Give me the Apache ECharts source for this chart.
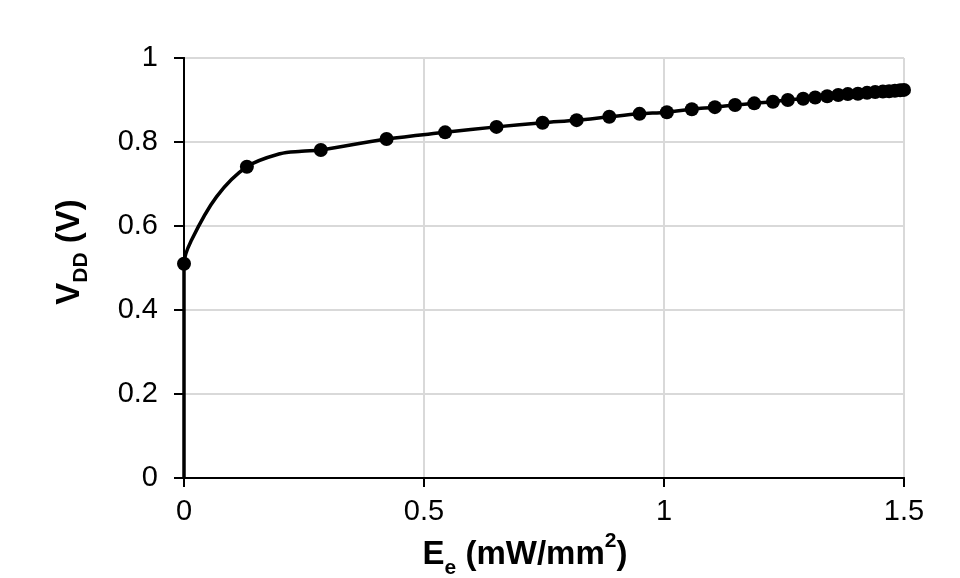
<!DOCTYPE html>
<html>
<head>
<meta charset="utf-8">
<script src="https://cdn.jsdelivr.net/npm/echarts@6/dist/echarts.min.js"></script>
<style>
  html, body { margin: 0; padding: 0; background: #fff; }
  #chart { width: 960px; height: 578px; }
</style>
</head>
<body>
<div id="chart"></div>
<script>
// measured points (markers)
const markX = [0, 0.131, 0.285, 0.422, 0.544, 0.651, 0.747, 0.818, 0.886, 0.949,
  1.006, 1.058, 1.106, 1.148, 1.188, 1.227, 1.258, 1.290, 1.315, 1.340,
  1.363, 1.383, 1.404, 1.423, 1.440, 1.456, 1.469, 1.481, 1.492, 1.500];
const markY = [0.510, 0.741, 0.781, 0.807, 0.823, 0.836, 0.846, 0.852, 0.860, 0.867,
  0.871, 0.878, 0.883, 0.888, 0.892, 0.896, 0.900, 0.903, 0.906, 0.909,
  0.912, 0.914, 0.915, 0.917, 0.919, 0.920, 0.921, 0.922, 0.923, 0.924];

// fitted curve at the start, then through the markers
const curveX = [0, 0, 0.016, 0.068, 0.131, 0.200, 0.245].concat(markX.slice(2));
const curveY = [0, 0.510, 0.567, 0.670, 0.741, 0.772, 0.778].concat(markY.slice(2));

const xTicks = [0, 0.5, 1, 1.5];
const yTicks = [0, 0.2, 0.4, 0.6, 0.8, 1];

const font = '"Liberation Sans", Arial, sans-serif';
const gridColor = '#d9d9d9';

let chart = echarts.init(document.getElementById('chart'));

let option = {
  backgroundColor: '#fff',
  animation: false,
  grid: { left: 184, right: 56, top: 58, bottom: 100, containLabel: false, outerBoundsMode: 'none' },
  xAxis: [
    {
      type: 'value',
      min: 0,
      max: 1.5,
      interval: 0.5,
      name: '{b|E}{s|e}{b| (mW/mm}{p|2}{b|)}',
      nameLocation: 'middle',
      nameGap: 50,
      nameTextStyle: {
        padding: [0, 38, 0, 0],
        rich: {
          b: { fontFamily: font, fontWeight: 'bold', fontSize: 33, color: '#000', lineHeight: 48 },
          s: { fontFamily: font, fontWeight: 'bold', fontSize: 21, color: '#000', lineHeight: 48, verticalAlign: 'bottom' },
          p: { fontFamily: font, fontWeight: 'bold', fontSize: 21, color: '#000', lineHeight: 48, verticalAlign: 'top' }
        }
      },
      axisLine: { show: true, onZero: false, lineStyle: { color: '#000', width: 2 } },
      axisTick: { show: true, inside: false, length: 9, lineStyle: { color: '#000', width: 2 } },
      axisLabel: {
        margin: 19,
        fontFamily: font,
        fontSize: 29,
        color: '#000',
        formatter: v => xTicks.includes(v) ? String(v) : ''
      },
      splitLine: { show: true, lineStyle: { color: gridColor, width: 2 } }
    },
    {
      type: 'value',
      position: 'top',
      min: 0,
      max: 1.5,
      interval: 0.5,
      axisLine: { show: true, lineStyle: { color: '#000', width: 2 } },
      axisTick: { show: false },
      axisLabel: { show: false },
      splitLine: { show: false }
    }
  ],
  yAxis: [
    {
      type: 'value',
      min: 0,
      max: 1,
      interval: 0.2,
      name: '{b|V}{s|DD}{b| (V)}',
      nameLocation: 'middle',
      nameGap: 92,
      nameTextStyle: {
        padding: [0, 0, 0, 32],
        rich: {
          b: { fontFamily: font, fontWeight: 'bold', fontSize: 33, color: '#000', lineHeight: 44 },
          s: { fontFamily: font, fontWeight: 'bold', fontSize: 21, color: '#000', lineHeight: 44, verticalAlign: 'bottom' }
        }
      },
      axisLine: { show: true, lineStyle: { color: '#000', width: 2 } },
      axisTick: { show: true, inside: false, length: 10, lineStyle: { color: '#000', width: 2 } },
      axisLabel: {
        margin: 26,
        fontFamily: font,
        fontSize: 29,
        color: '#000',
        formatter: v => {
          let r = Math.round(v * 10) / 10;
          return yTicks.includes(r) ? String(r) : '';
        }
      },
      splitLine: { show: true, lineStyle: { color: gridColor, width: 2 } }
    },
    {
      type: 'value',
      position: 'right',
      min: 0,
      max: 1,
      interval: 0.2,
      axisLine: { show: true, lineStyle: { color: '#000', width: 2 } },
      axisTick: { show: false },
      axisLabel: { show: false },
      splitLine: { show: false }
    }
  ],
  series: [
    {
      name: 'fit',
      type: 'line',
      data: curveX.map((x, i) => [x, curveY[i]]),
      smooth: 0.35,
      showSymbol: false,
      lineStyle: { color: '#000', width: 3.5 },
      z: 3
    },
    {
      name: 'points',
      type: 'scatter',
      data: markX.map((x, i) => [x, markY[i]]),
      symbol: 'circle',
      symbolSize: 14,
      itemStyle: { color: '#000', opacity: 1 },
      z: 4
    }
  ]
};

chart.setOption(option);
</script>
</body>
</html>
